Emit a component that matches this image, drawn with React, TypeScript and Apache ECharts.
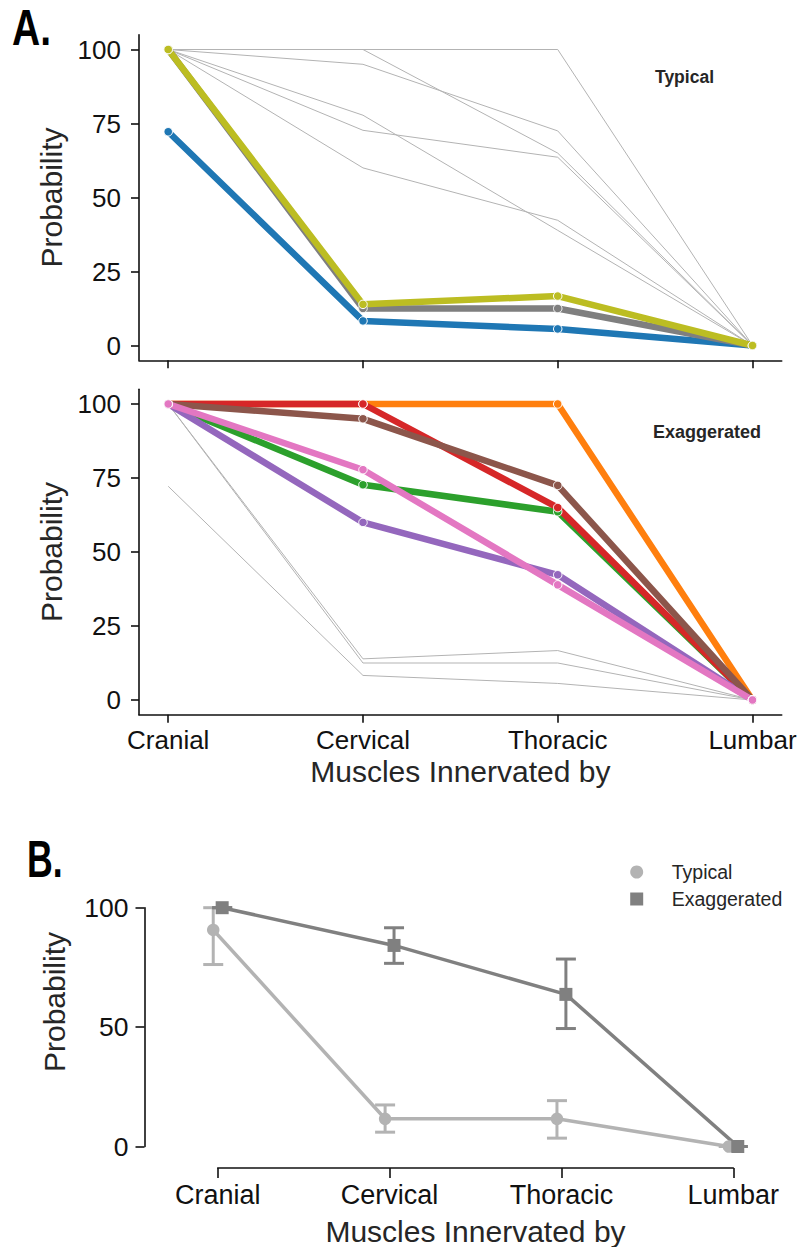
import React, { useEffect, useRef } from "react";
import * as echarts from "echarts";

// Spinal regions along the x axis
const regions = ["Cranial", "Cervical", "Thoracic", "Lumbar"];
const probTicks = [0, 25, 50, 75, 100];

// Individual probability profiles, one per subject (percent)
const profileBlue = [72.2, 8.3, 5.6, 0];
const profileGray = [100, 12.5, 12.5, 0];
const profileOlive = [100, 13.9, 16.7, 0];

const profileOrange = [100, 100, 100, 0];
const profileGreen = [100, 72.7, 63.6, 0];
const profileRed = [100, 100, 65.0, 0];
const profilePurple = [100, 60.0, 42.3, 0];
const profileBrown = [100, 95.0, 72.5, 0];
const profilePink = [100, 77.8, 38.9, 0];

// Group summaries with 95% interval bounds
const typicalMean = [90.7, 11.6, 11.6, 0];
const typicalLow = [76.2, 6.0, 3.5, 0];
const typicalHigh = [100, 17.4, 19.2, 0];
const exaggeratedMean = [100, 84.2, 63.7, 0];
const exaggeratedLow = [100, 76.7, 49.4, 0];
const exaggeratedHigh = [100, 91.6, 78.5, 0];

const FONT = "Liberation Sans, Arial, Helvetica, sans-serif";
const INK = "#111111";
const TEXT = "#262626";
const THIN = "#b3b3b3";

const typicalSet = [
  { name: "subject 1", values: profileBlue, color: "#1f77b4" },
  { name: "subject 8", values: profileGray, color: "#7f7f7f" },
  { name: "subject 9", values: profileOlive, color: "#bcbd22" },
];
const exaggeratedSet = [
  { name: "subject 2", values: profileOrange, color: "#ff7f0e" },
  { name: "subject 3", values: profileGreen, color: "#2ca02c" },
  { name: "subject 4", values: profileRed, color: "#d62728" },
  { name: "subject 5", values: profilePurple, color: "#9467bd" },
  { name: "subject 6", values: profileBrown, color: "#8c564b" },
  { name: "subject 7", values: profilePink, color: "#e377c2" },
];

const toPoints = (vals: number[], shift = 0) => vals.map((v, i) => [i + shift, v]);

function thinSeries(p: { name: string; values: number[] }, g: number) {
  return {
    type: "line",
    name: p.name + " bg" + g,
    xAxisIndex: g,
    yAxisIndex: g,
    data: toPoints(p.values),
    showSymbol: false,
    symbol: "none",
    silent: true,
    lineStyle: { color: THIN, width: 1 },
    z: 2,
  };
}

function thickSeries(p: { name: string; values: number[]; color: string }, g: number) {
  return {
    type: "line",
    name: p.name,
    xAxisIndex: g,
    yAxisIndex: g,
    data: toPoints(p.values),
    symbol: "circle",
    symbolSize: 8.5,
    showSymbol: true,
    itemStyle: { color: p.color, borderColor: "#ffffff", borderWidth: 1 },
    lineStyle: { color: p.color, width: 6.5 },
    z: 3,
  };
}

const DODGE = 0.026;

function ciSeries(name: string, lo: number[], hi: number[], shift: number, color: string) {
  return {
    type: "custom",
    name,
    xAxisIndex: 2,
    yAxisIndex: 2,
    clip: false,
    silent: true,
    data: lo.map((l, i) => [i + shift, l, hi[i]]),
    encode: { x: 0, y: [1, 2] },
    renderItem: (_params: any, api: any) => {
      const x = api.value(0);
      const a = api.coord([x, api.value(1)]);
      const b = api.coord([x, api.value(2)]);
      const half = 10;
      const style = { stroke: color, lineWidth: 3 };
      return {
        type: "group",
        children: [
          { type: "line", shape: { x1: a[0], y1: a[1], x2: b[0], y2: b[1] }, style },
          { type: "line", shape: { x1: a[0] - half, y1: a[1], x2: a[0] + half, y2: a[1] }, style },
          { type: "line", shape: { x1: b[0] - half, y1: b[1], x2: b[0] + half, y2: b[1] }, style },
        ],
      };
    },
    z: 3,
  };
}

function meanSeries(name: string, vals: number[], shift: number, color: string, symbol: string, size: number) {
  return {
    type: "line",
    name,
    xAxisIndex: 2,
    yAxisIndex: 2,
    clip: false,
    data: toPoints(vals, shift),
    symbol,
    symbolSize: size,
    showSymbol: true,
    itemStyle: { color },
    lineStyle: { color, width: 3.5 },
    z: 4,
  };
}

const axisLineStyle = { color: INK, width: 1.6 };

function panelXAxis(g: number, withLabels: boolean) {
  return {
    gridIndex: g,
    type: "value",
    min: -0.15,
    max: 3.15,
    axisLine: { show: true, onZero: false, lineStyle: axisLineStyle },
    axisTick: { show: true, customValues: [0, 1, 2, 3], length: 8, lineStyle: axisLineStyle },
    axisLabel: {
      show: withLabels,
      customValues: [0, 1, 2, 3],
      formatter: (v: number) => regions[Math.round(v)] ?? "",
      fontSize: 26,
      fontFamily: FONT,
      color: INK,
      margin: 12,
    },
    splitLine: { show: false },
    name: withLabels ? "Muscles Innervated by" : "",
    nameLocation: "middle",
    nameGap: 42,
    nameTextStyle: { fontSize: 30, fontFamily: FONT, color: TEXT },
  };
}

function panelYAxis(g: number) {
  return {
    gridIndex: g,
    type: "value",
    min: -5,
    max: 105,
    axisLine: { show: true, onZero: false, lineStyle: axisLineStyle },
    axisTick: { show: true, customValues: probTicks, length: 8, lineStyle: axisLineStyle },
    axisLabel: {
      customValues: probTicks,
      fontSize: 26,
      fontFamily: FONT,
      color: INK,
      margin: 18,
    },
    splitLine: { show: false },
    name: "Probability",
    nameLocation: "middle",
    nameGap: 70,
    nameTextStyle: { fontSize: 30, fontFamily: FONT, color: TEXT },
  };
}

export default function App() {
  const ref = useRef<HTMLDivElement>(null);

  useEffect(() => {
    if (!ref.current) return;
    const chart = echarts.init(ref.current, undefined, { renderer: "svg" });

    const option: any = {
      animation: false,
      backgroundColor: "#ffffff",
      grid: [
        { left: 139, top: 34.7, width: 642.7, height: 325.6 },
        { left: 139, top: 389.2, width: 642.7, height: 325.6 },
        { left: 217.7, top: 907.7, width: 515.6, height: 239 },
      ],
      xAxis: [
        panelXAxis(0, false),
        panelXAxis(1, true),
        {
          gridIndex: 2,
          type: "value",
          min: 0,
          max: 3,
          interval: 1,
          offset: 21.5,
          axisLine: { show: true, onZero: false, lineStyle: axisLineStyle },
          axisTick: { show: true, length: 10, lineStyle: axisLineStyle },
          axisLabel: {
            formatter: (v: number) => regions[Math.round(v)] ?? "",
            fontSize: 27,
            fontFamily: FONT,
            color: INK,
            margin: 13,
          },
          splitLine: { show: false },
          name: "Muscles Innervated by",
          nameLocation: "middle",
          nameGap: 48,
          nameTextStyle: { fontSize: 30, fontFamily: FONT, color: TEXT },
        },
      ],
      yAxis: [
        panelYAxis(0),
        panelYAxis(1),
        {
          gridIndex: 2,
          type: "value",
          min: 0,
          max: 100,
          interval: 50,
          offset: 73.2,
          axisLine: { show: true, onZero: false, lineStyle: axisLineStyle },
          axisTick: { show: true, length: 9, lineStyle: axisLineStyle },
          axisLabel: { fontSize: 26.5, fontFamily: FONT, color: INK, margin: 16 },
          splitLine: { show: false },
        },
      ],
      legend: {
        show: true,
        orient: "vertical",
        left: 630.2,
        top: 862,
        padding: 0,
        itemWidth: 13,
        itemHeight: 13,
        itemGap: 7,
        selectedMode: false,
        data: [
          { name: "Typical", icon: "circle" },
          { name: "Exaggerated", icon: "rect" },
        ],
        textStyle: {
          fontSize: 19.5,
          fontFamily: FONT,
          color: TEXT,
          lineHeight: 20,
          padding: [0, 0, 0, 23.5],
        },
      },
      graphic: [
        {
          type: "text",
          x: 12,
          y: 28,
          scaleX: 0.78,
          style: {
            text: "A.",
            fontSize: 50,
            fontWeight: "bold",
            fontFamily: FONT,
            fill: "#000000",
            textAlign: "left",
            textVerticalAlign: "middle",
            align: "left",
            verticalAlign: "middle",
          },
        },
        {
          type: "text",
          x: 27,
          y: 859,
          scaleX: 0.7,
          style: {
            text: "B.",
            fontSize: 51,
            fontWeight: "bold",
            fontFamily: FONT,
            fill: "#000000",
            textAlign: "left",
            textVerticalAlign: "middle",
            align: "left",
            verticalAlign: "middle",
          },
        },
        {
          type: "text",
          x: 655,
          y: 77,
          style: {
            text: "Typical",
            fontSize: 17.5,
            fontWeight: "bold",
            fontFamily: FONT,
            fill: TEXT,
            textAlign: "left",
            textVerticalAlign: "middle",
            align: "left",
            verticalAlign: "middle",
          },
        },
        {
          type: "text",
          x: 653,
          y: 432,
          style: {
            text: "Exaggerated",
            fontSize: 18,
            fontWeight: "bold",
            fontFamily: FONT,
            fill: TEXT,
            textAlign: "left",
            textVerticalAlign: "middle",
            align: "left",
            verticalAlign: "middle",
          },
        },
        {
          type: "text",
          x: 54,
          y: 1002,
          rotation: Math.PI / 2,
          style: {
            text: "Probability",
            fontSize: 30,
            fontFamily: FONT,
            fill: TEXT,
            textAlign: "center",
            textVerticalAlign: "middle",
            align: "center",
            verticalAlign: "middle",
          },
        },
      ],
      series: [
        // Panel A, typical subjects highlighted over the exaggerated ones
        ...exaggeratedSet.map((p) => thinSeries(p, 0)),
        ...typicalSet.map((p) => thickSeries(p, 0)),
        // Panel A, exaggerated subjects highlighted over the typical ones
        ...typicalSet.map((p) => thinSeries(p, 1)),
        ...exaggeratedSet.map((p) => thickSeries(p, 1)),
        // Panel B, group means with interval bars
        ciSeries("Typical interval", typicalLow, typicalHigh, -DODGE, "#b3b3b3"),
        meanSeries("Typical", typicalMean, -DODGE, "#b3b3b3", "circle", 12.5),
        ciSeries("Exaggerated interval", exaggeratedLow, exaggeratedHigh, DODGE, "#808080"),
        meanSeries("Exaggerated", exaggeratedMean, DODGE, "#808080", "rect", 13),
      ],
    };

    chart.setOption(option);
    return () => chart.dispose();
  }, []);

  return (
    <div
      ref={ref}
      style={{ position: "absolute", left: 0, top: 0, width: 801, height: 1247, background: "#fff" }}
    />
  );
}
